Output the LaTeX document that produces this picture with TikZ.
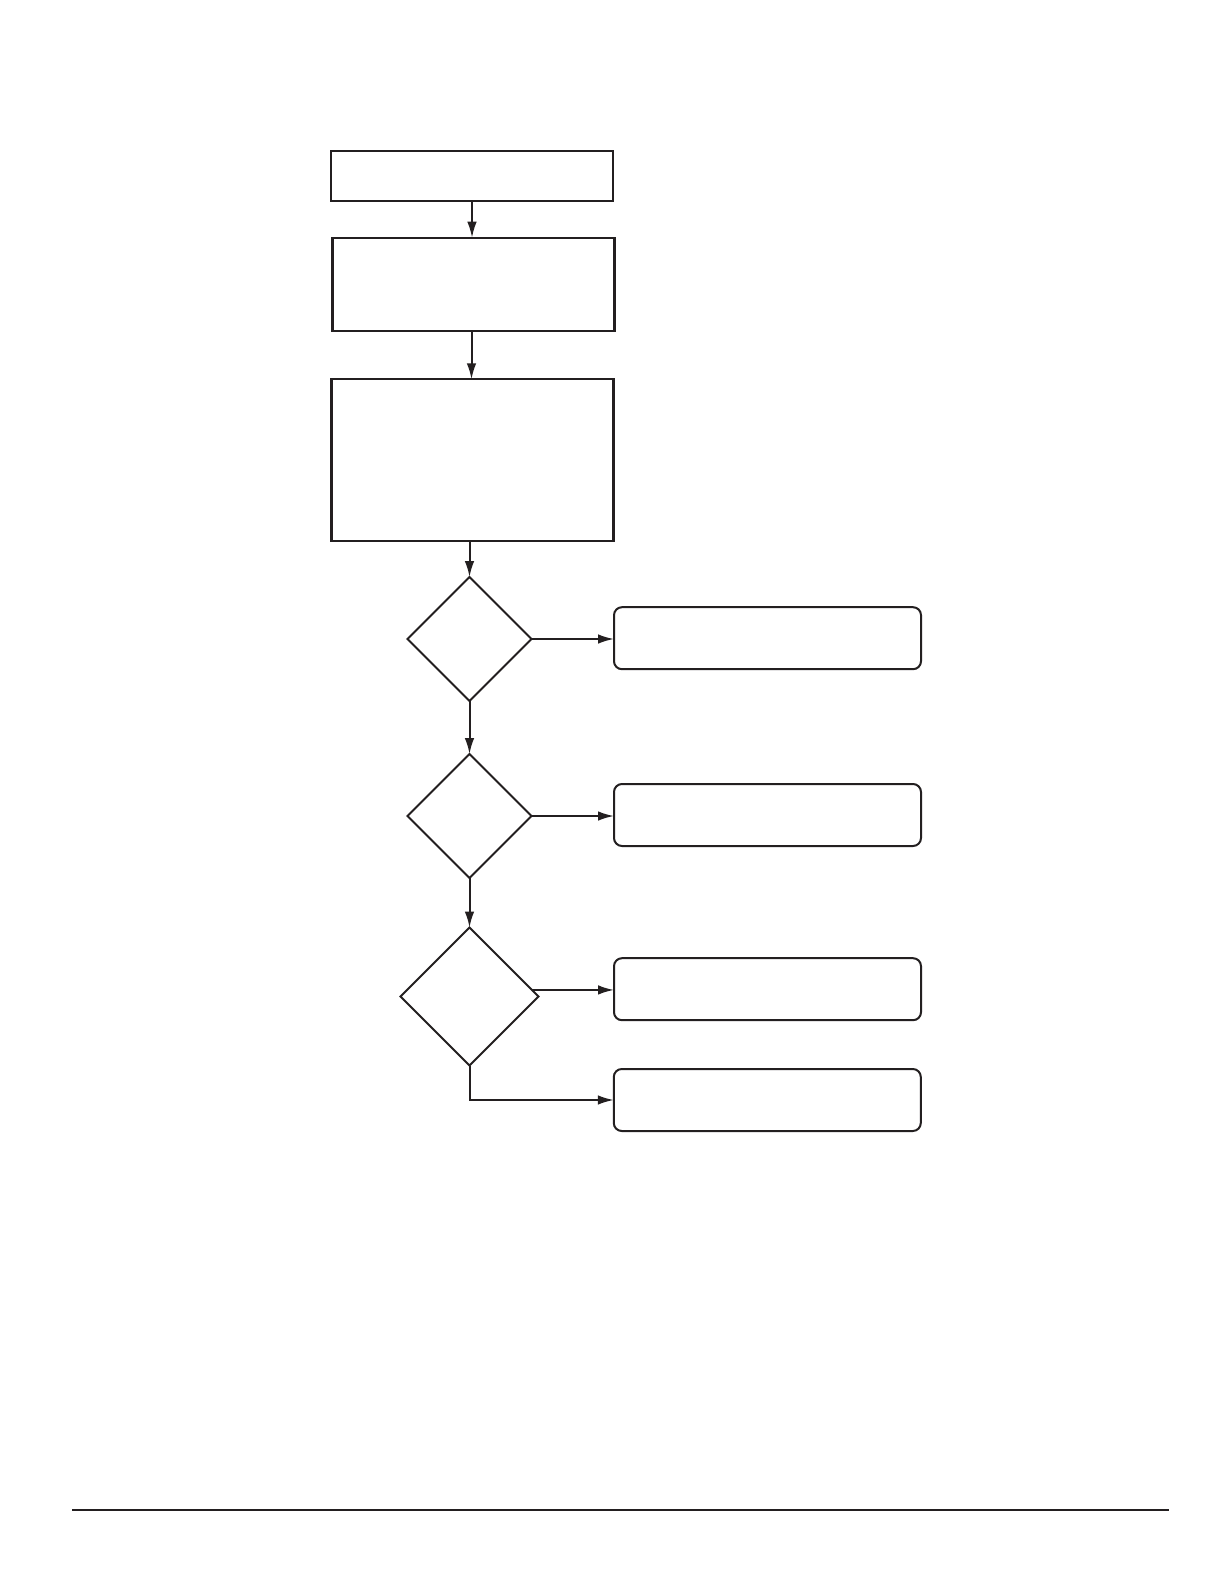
\documentclass[tikz,border=0pt]{standalone}
\usetikzlibrary{shapes.geometric,arrows.meta}
\definecolor{ink}{RGB}{35,31,32}
\begin{document}
\begin{tikzpicture}[x=0.5bp,y=-0.5bp,
  every node/.style={inner sep=0pt,outer sep=0pt},
  sqbox/.style={draw=ink,line width=1.05bp,rectangle,minimum width=141bp},
  rbox/.style={draw=ink,line width=1bp,rectangle,rounded corners=4bp,minimum width=153.5bp,minimum height=31bp},
  dec/.style={draw=ink,line width=1bp,diamond,aspect=1},
  arr/.style={draw=ink,line width=1bp,-{Latex[length=8bp,width=4.8bp]}}]
\useasboundingbox[fill=white] (0,0) rectangle (1224,1584);
% boxes
\node[sqbox,minimum height=25.2bp] (b1) at (472,175.9) {};
\node[sqbox,minimum height=46.7bp] (b2) at (473.5,284.4) {};
\node[sqbox,minimum height=80.9bp] (b3) at (472.5,460.2) {};
% decisions
\node[dec,minimum width=62bp,minimum height=62bp] (d1) at (469.5,639) {};
\node[dec,minimum width=62bp,minimum height=62bp] (d2) at (469.5,816) {};
\node[dec,minimum width=69bp,minimum height=69bp] (d3) at (469.5,996.5) {};
% outcome boxes
\node[rbox] (r1) at (767.5,638.2) {};
\node[rbox] (r2) at (767.5,815) {};
\node[rbox] (r3) at (767.5,989.2) {};
\node[rbox] (r4) at (767.3,1100) {};
% connectors
\draw[arr] (b1.south) -- (b2.north -| b1.south);
\draw[arr] (b2.south -| 471.5,0) -- (b3.north -| 471.5,0);
\draw[arr] (b3.south -| d1.north) -- (d1.north);
\draw[arr] (d1.east) -- (r1.west |- d1.east);
\draw[arr] (d1.south) -- (d2.north);
\draw[arr] (d2.east) -- (r2.west |- d2.east);
\draw[arr] (d2.south) -- (d3.north);
\draw[arr] (d3.6) -- (d3.6 -| r3.west);
\draw[arr] (d3.south) |- (r4.west);
% footer rule
\coordinate (fl) at (72,1510);
\coordinate (fr) at (1169,1510);
\draw[ink,line width=1.1bp] (fl) -- (fr);
\end{tikzpicture}
\end{document}
